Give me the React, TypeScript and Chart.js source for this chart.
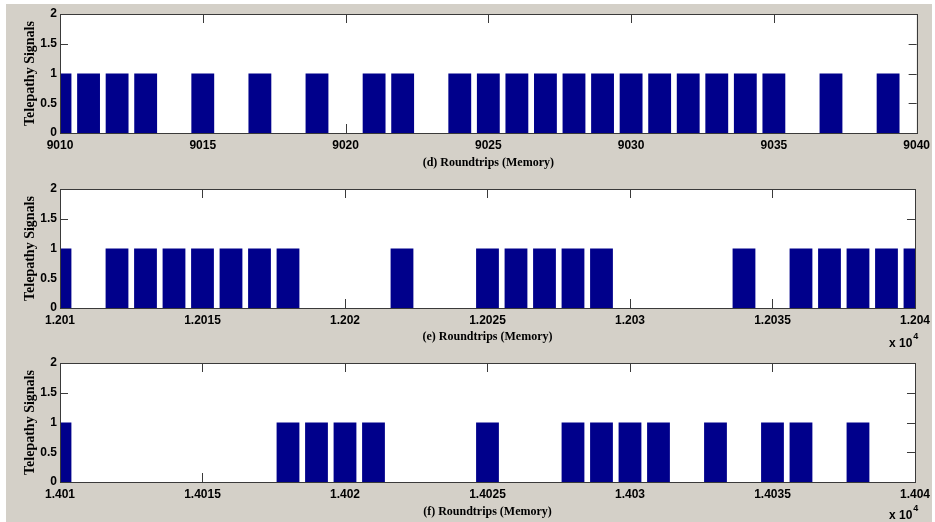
import React, { useEffect, useRef } from "react";
import { Chart, registerables } from "chart.js";

Chart.register(...registerables);

// ---------- data ----------
const panelDStart = 9010;
const panelDValues = [1, 1, 1, 1, 0, 1, 0, 1, 0, 1, 0, 1, 1, 0, 1, 1, 1, 1, 1, 1, 1, 1, 1, 1, 1, 1, 0, 1, 0, 1, 0];
const panelDTitle = "(d) Roundtrips (Memory)";

const panelEStart = 12010;
const panelEValues = [1, 0, 1, 1, 1, 1, 1, 1, 1, 0, 0, 0, 1, 0, 0, 1, 1, 1, 1, 1, 0, 0, 0, 0, 1, 0, 1, 1, 1, 1, 1];
const panelETitle = "(e) Roundtrips (Memory)";

const panelFStart = 14010;
const panelFValues = [1, 0, 0, 0, 0, 0, 0, 0, 1, 1, 1, 1, 0, 0, 0, 1, 0, 0, 1, 1, 1, 1, 0, 1, 0, 1, 1, 0, 1, 0, 0];
const panelFTitle = "(f) Roundtrips (Memory)";

const yTitle = "Telepathy Signals";
const yTicks = [0, 0.5, 1, 1.5, 2];
const xTickStep = 5;

// ---------- styles ----------
const BAR_COLOR = "#00008b";
const AXIS_COLOR = "#3a3a3a";
const TICK_FONT = "'Liberation Sans Narrow', 'Liberation Sans', Arial, sans-serif";
const TITLE_FONT = "'Liberation Serif', 'Times New Roman', serif";

const matlabAxes = {
  id: "matlabAxes",
  beforeDraw(chart: any) {
    const { ctx, chartArea: a } = chart;
    ctx.save();
    ctx.fillStyle = "#ffffff";
    ctx.fillRect(a.left, a.top, a.right - a.left, a.bottom - a.top);
    ctx.restore();
  },
  beforeDatasetsDraw(chart: any) {
    const { ctx, chartArea: a, scales } = chart;
    const xs = scales.x;
    const ys = scales.y;
    ctx.save();
    ctx.strokeStyle = AXIS_COLOR;
    ctx.lineWidth = 1;
    ctx.beginPath();
    xs.ticks.forEach((t: any) => {
      const px = Math.round(xs.getPixelForValue(t.value)) + 0.5;
      ctx.moveTo(px, a.bottom);
      ctx.lineTo(px, a.bottom - 9);
      ctx.moveTo(px, a.top);
      ctx.lineTo(px, a.top + 9);
    });
    ys.ticks.forEach((t: any) => {
      const py = Math.round(ys.getPixelForValue(t.value)) + 0.5;
      ctx.moveTo(a.left, py);
      ctx.lineTo(a.left + 8, py);
      ctx.moveTo(a.right, py);
      ctx.lineTo(a.right - 8, py);
    });
    ctx.stroke();
    ctx.restore();
  },
  afterDatasetsDraw(chart: any, _args: any, opts: any) {
    const { ctx, chartArea: a } = chart;
    ctx.save();
    ctx.strokeStyle = AXIS_COLOR;
    ctx.lineWidth = 1;
    ctx.strokeRect(Math.round(a.left) + 0.5, Math.round(a.top) + 0.5, Math.round(a.right - a.left), Math.round(a.bottom - a.top));
    if (opts && opts.exponent) {
      ctx.fillStyle = "#000";
      ctx.font = `bold 12px ${TICK_FONT}`;
      ctx.textAlign = "left";
      ctx.textBaseline = "alphabetic";
      const x0 = a.right - 26;
      const yb = a.bottom + opts.expOffset;
      ctx.fillText("x 10", x0, yb);
      const w = ctx.measureText("x 10").width;
      ctx.font = `bold 9px ${TICK_FONT}`;
      ctx.fillText(String(opts.exponent), x0 + w + 1, yb - 8);
    }
    ctx.restore();
  },
};

type PanelProps = {
  start: number;
  values: number[];
  title: string;
  top: number;
  height: number;
  padTop: number;
  titlePadBottom: number;
  exponent?: number;
  expOffset?: number;
};

function Panel(props: PanelProps) {
  const ref = useRef<HTMLCanvasElement | null>(null);
  useEffect(() => {
    if (!ref.current) return;
    const { start, values, title, height, padTop, titlePadBottom, exponent, expOffset } = props;
    const points = values.map((v, i) => ({ x: start + i, y: v }));
    const plotBottom = padTop + 119;
    const xHeight = height - plotBottom;
    const scaleDiv = exponent ? Math.pow(10, exponent) : 1;
    const chart = new Chart(ref.current, {
      type: "bar",
      data: {
        datasets: [
          {
            data: points as any,
            backgroundColor: BAR_COLOR,
            borderWidth: 0,
            barPercentage: 0.8,
            categoryPercentage: 1,
            clip: 0 as any,
          },
        ],
      },
      plugins: [matlabAxes as any],
      options: {
        animation: false,
        responsive: false,
        maintainAspectRatio: false,
        events: [],
        layout: { padding: { top: padTop, right: 16, left: 0, bottom: 0 } },
        plugins: {
          legend: { display: false },
          tooltip: { enabled: false },
          matlabAxes: { exponent, expOffset },
        } as any,
        scales: {
          x: {
            type: "linear",
            offset: false,
            min: start,
            max: start + values.length - 1,
            grid: { display: false, offset: false, drawTicks: false } as any,
            border: { display: false },
            ticks: {
              stepSize: xTickStep,
              autoSkip: false,
              maxRotation: 0,
              padding: 5,
              color: "#000",
              font: { family: TICK_FONT, size: 12, weight: "bold" },
              callback: (v: any) => String(parseFloat((Number(v) / scaleDiv).toFixed(6))),
            },
            title: {
              display: true,
              text: title,
              color: "#000",
              font: { family: TITLE_FONT, size: 12, weight: "bold" },
              padding: { top: 0, bottom: titlePadBottom },
            },
            afterFit: (s: any) => {
              s.height = xHeight;
            },
          },
          y: {
            type: "linear",
            min: yTicks[0],
            max: yTicks[yTicks.length - 1],
            grid: { display: false, drawTicks: false },
            border: { display: false },
            afterBuildTicks: (s: any) => {
              s.ticks = yTicks.map((v) => ({ value: v }));
            },
            ticks: {
              padding: 3,
              color: "#000",
              font: { family: TICK_FONT, size: 12, weight: "bold" },
              callback: (v: any) => String(v),
            },
            title: {
              display: true,
              text: yTitle,
              color: "#000",
              font: { family: TITLE_FONT, size: 14, weight: "bold" },
              padding: { top: 21.6, bottom: 0 },
            },
            afterFit: (s: any) => {
              s.width = 60;
            },
          },
        },
      } as any,
    });
    return () => chart.destroy();
  }, []);
  return (
    <canvas
      ref={ref}
      width={935}
      height={props.height}
      style={{ position: "absolute", left: 0, top: props.top, width: 935, height: props.height }}
    />
  );
}

export default function App() {
  return (
    <div style={{ position: "absolute", left: 0, top: 0, width: 935, height: 522, background: "#ffffff", overflow: "hidden" }}>
      <div style={{ position: "absolute", left: 6, top: 4, width: 926, height: 518, background: "#d4d0c8" }} />
      <Panel start={panelDStart} values={panelDValues} title={panelDTitle} top={0} height={174} padTop={14} titlePadBottom={3.8} />
      <Panel start={panelEStart} values={panelEValues} title={panelETitle} top={174} height={176} padTop={15} titlePadBottom={5.8} exponent={4} expOffset={39} />
      <Panel start={panelFStart} values={panelFValues} title={panelFTitle} top={350} height={172} padTop={13} titlePadBottom={2.8} exponent={4} expOffset={37} />
    </div>
  );
}
